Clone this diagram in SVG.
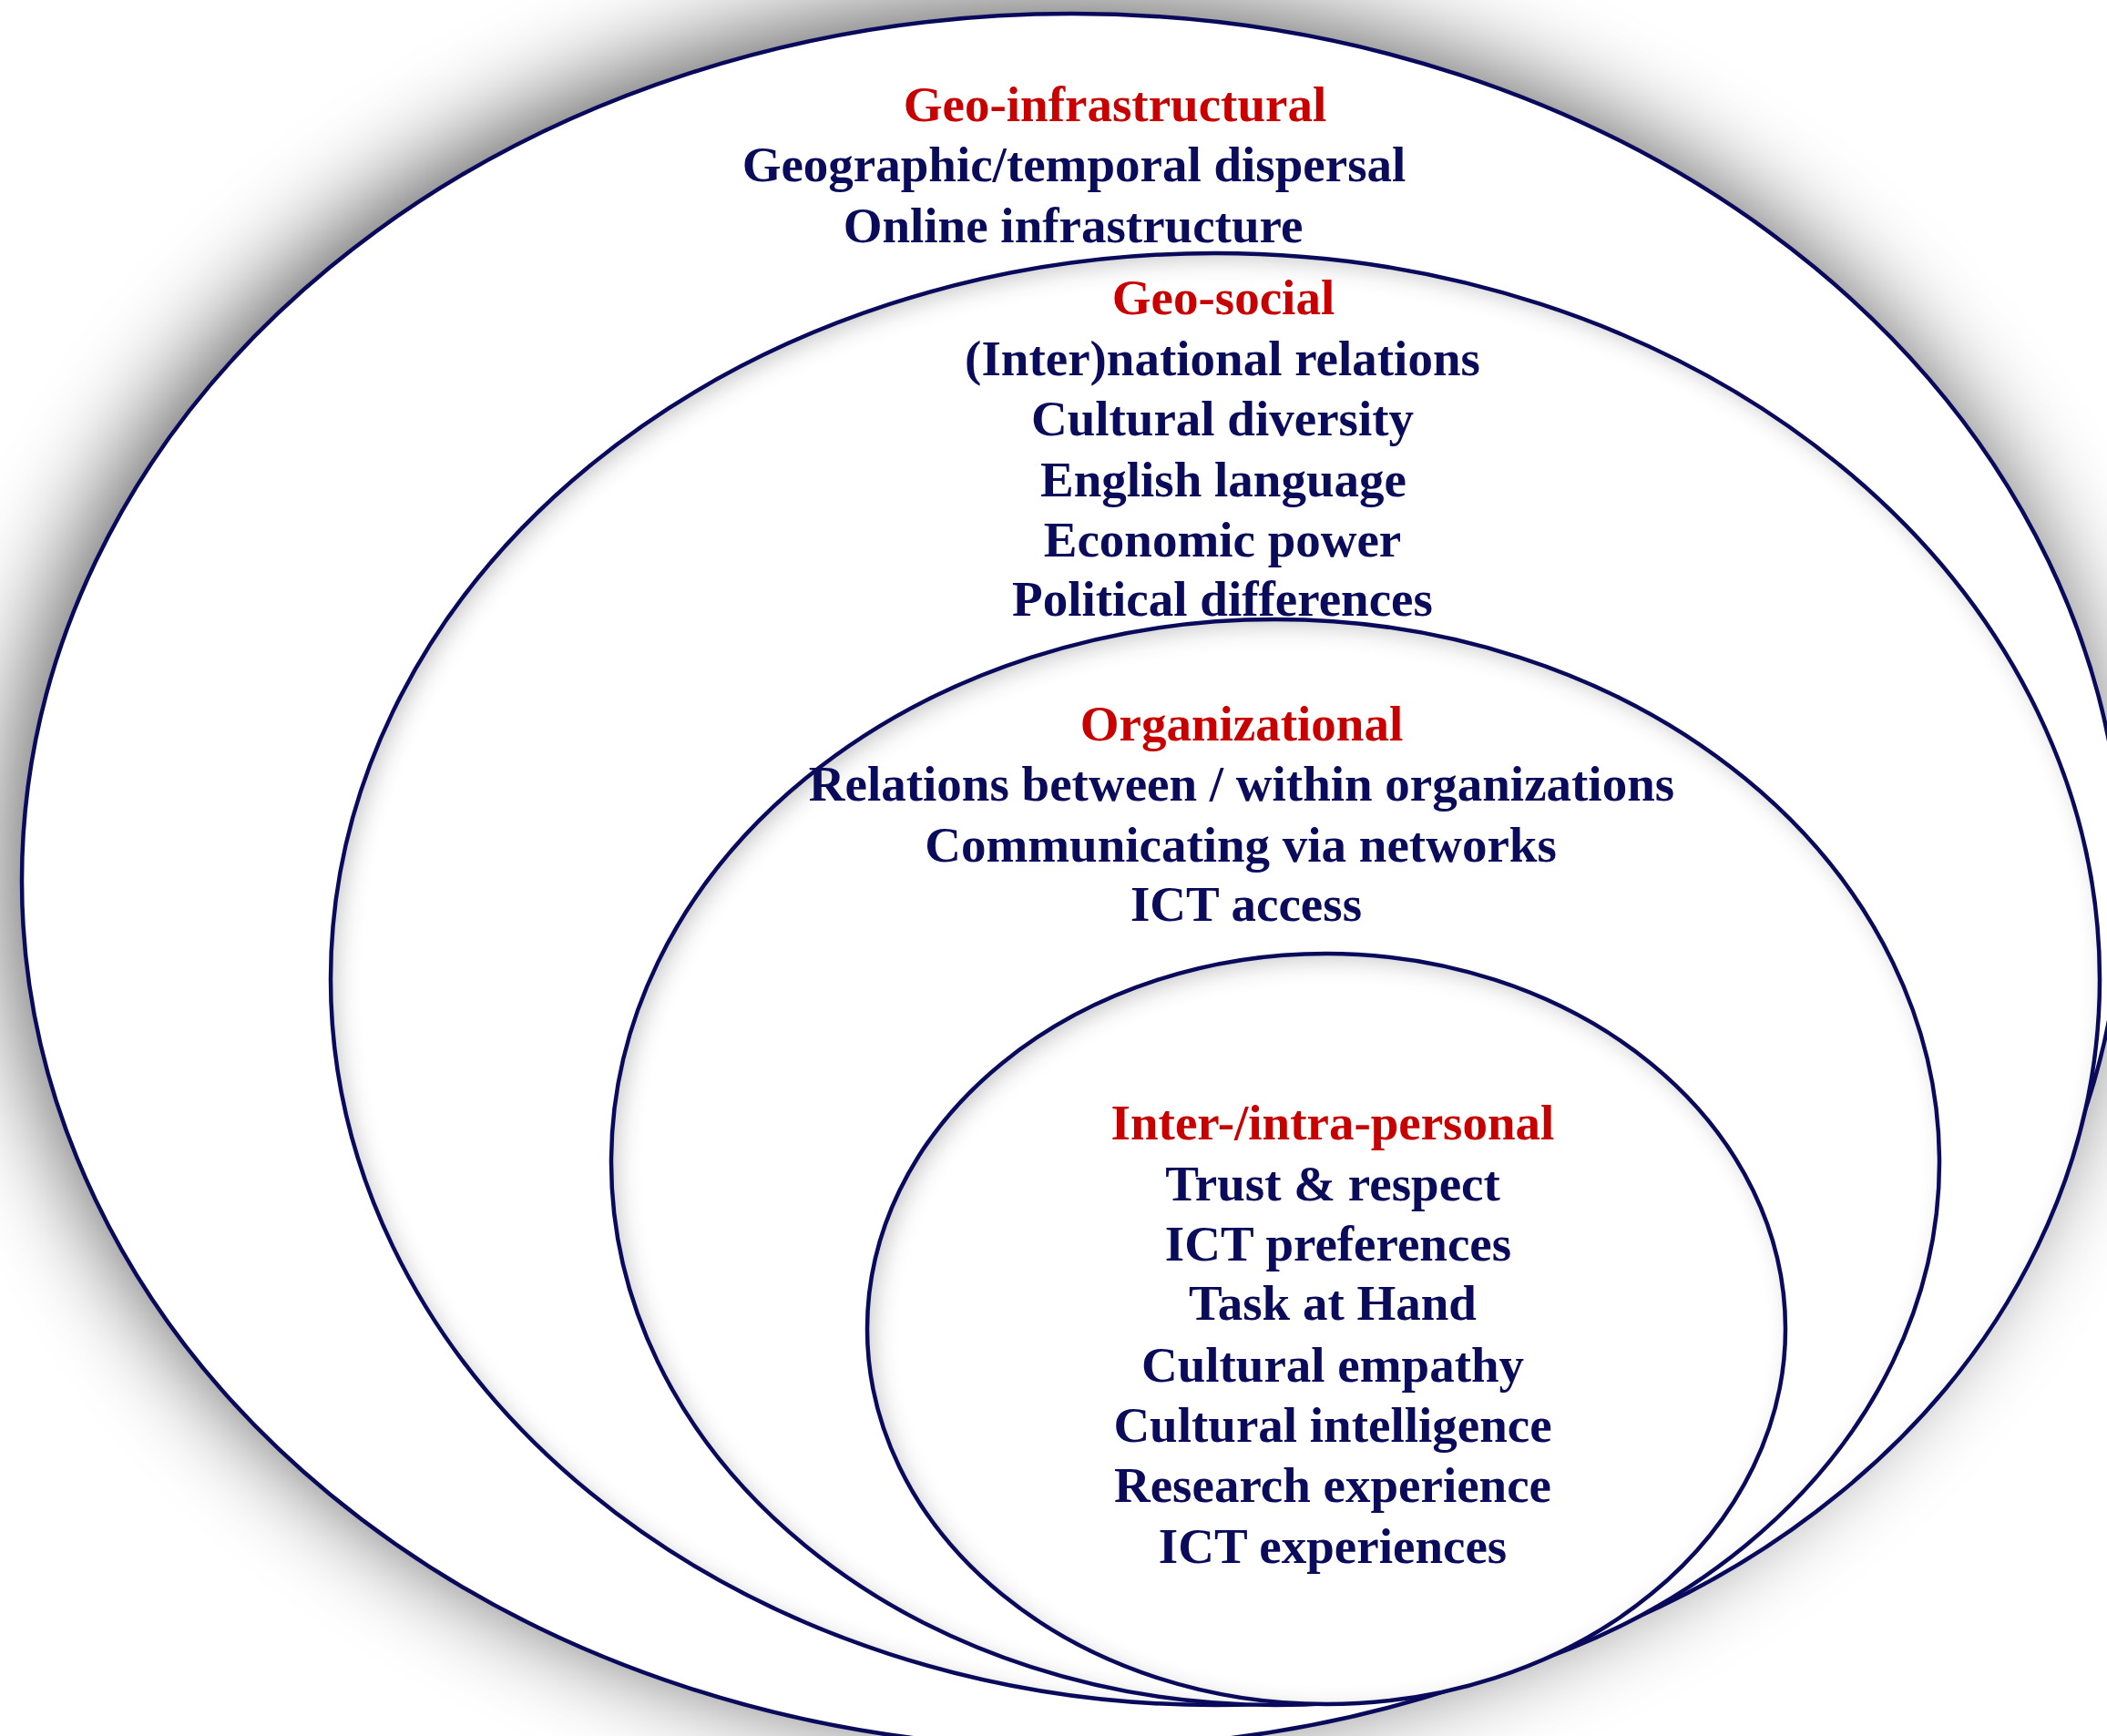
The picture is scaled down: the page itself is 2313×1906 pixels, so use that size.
<svg xmlns="http://www.w3.org/2000/svg" width="2313" height="1906" viewBox="0 0 2313 1906">
  <style>
    .ring { fill: none; stroke: #0a0a5c; stroke-width: 4.5; }
    .fill { fill: #ffffff; }
    text { font-family: "Liberation Serif", "Times New Roman", serif; font-weight: bold; font-size: 55px; text-anchor: middle; }
    .title { fill: #c80000; }
    .item { fill: #0b0b5c; }
  </style>
  <defs>
    <filter id="outerShadow" x="-12%" y="-12%" width="124%" height="124%">
      <feGaussianBlur in="SourceAlpha" stdDeviation="55"/>
      <feOffset dx="-14" dy="-16"/>
      <feComponentTransfer><feFuncA type="linear" slope="0.62"/></feComponentTransfer>
      <feMerge><feMergeNode/><feMergeNode in="SourceGraphic"/></feMerge>
    </filter>
    <filter id="inset" x="-5%" y="-5%" width="110%" height="110%">
      <feFlood flood-color="#3a3a48" flood-opacity="0.45" result="f"/>
      <feComposite in="f" in2="SourceAlpha" operator="out" result="inv"/>
      <feGaussianBlur in="inv" stdDeviation="13" result="bl"/>
      <feOffset in="bl" dx="7" dy="7" result="off"/>
      <feComposite in="off" in2="SourceAlpha" operator="in" result="sh"/>
      <feMerge><feMergeNode in="SourceGraphic"/><feMergeNode in="sh"/></feMerge>
    </filter>
  </defs>
  <rect width="2313" height="1906" fill="#ffffff"/>

  <g id="geo-infrastructural">
    <ellipse class="fill" cx="1177" cy="967" rx="1153" ry="952" filter="url(#outerShadow)"/>
    <ellipse class="ring" cx="1177" cy="967" rx="1153" ry="952"/>
    <text class="title" x="1224" y="133">Geo-infrastructural</text>
    <text class="item" x="1179" y="199">Geographic/temporal dispersal</text>
    <text class="item" x="1178" y="266">Online infrastructure</text>
  </g>

  <g id="geo-social">
    <ellipse class="fill" cx="1334" cy="1075" rx="971" ry="797" filter="url(#inset)"/>
    <ellipse class="ring" cx="1334" cy="1075" rx="971" ry="797"/>
    <text class="title" x="1343" y="345">Geo-social</text>
    <text class="item" x="1342" y="412">(Inter)national relations</text>
    <text class="item" x="1342" y="478">Cultural diversity</text>
    <text class="item" x="1343" y="545">English language</text>
    <text class="item" x="1342" y="611">Economic power</text>
    <text class="item" x="1342" y="676">Political differences</text>
  </g>

  <g id="organizational">
    <ellipse class="fill" cx="1400" cy="1276" rx="729" ry="596" filter="url(#inset)"/>
    <ellipse class="ring" cx="1400" cy="1276" rx="729" ry="596"/>
    <text class="title" x="1363" y="813">Organizational</text>
    <text class="item" x="1363" y="879">Relations between / within organizations</text>
    <text class="item" x="1362" y="946">Communicating via networks</text>
    <text class="item" x="1368" y="1011">ICT access</text>
  </g>

  <g id="inter-intra-personal">
    <ellipse class="fill" cx="1456" cy="1459" rx="504" ry="412" filter="url(#inset)"/>
    <ellipse class="ring" cx="1456" cy="1459" rx="504" ry="412"/>
    <text class="title" x="1463" y="1251">Inter-/intra-personal</text>
    <text class="item" x="1463" y="1318">Trust &amp; respect</text>
    <text class="item" x="1469" y="1384">ICT preferences</text>
    <text class="item" x="1463" y="1449">Task at Hand</text>
    <text class="item" x="1463" y="1517">Cultural empathy</text>
    <text class="item" x="1463" y="1583">Cultural intelligence</text>
    <text class="item" x="1463" y="1649">Research experience</text>
    <text class="item" x="1463" y="1716">ICT experiences</text>
  </g>

  <g id="connectors"/>
</svg>
